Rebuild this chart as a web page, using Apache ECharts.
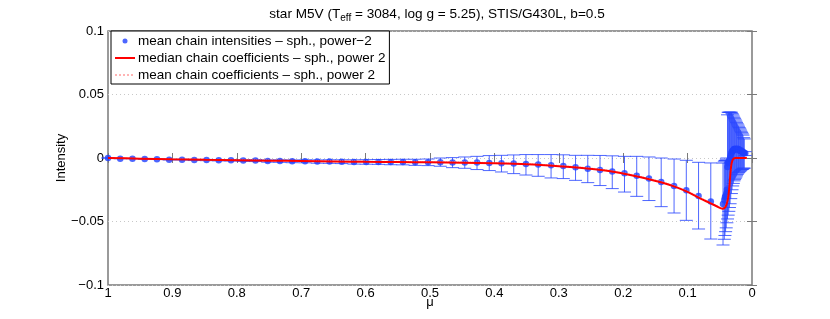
<!DOCTYPE html>
<html>
<head>
<meta charset="utf-8">
<script src="https://cdn.jsdelivr.net/npm/echarts@6/dist/echarts.min.js"></script>
<style>
  html, body { margin: 0; padding: 0; background: #fff; overflow: hidden; }
  #chart { width: 830px; height: 319px; }
</style>
</head>
<body>
<div id="chart"></div>
<script>
// ---- data ----
const titleMain = 'star M5V (T';
const titleSub = 'eff';
const titleRest = ' = 3084, log g = 5.25), STIS/G430L, b=0.5';
const xLabel = 'μ';
const yLabel = 'Intensity';
const nameDots = 'mean chain intensities – sph., power−2';
const nameMedian = 'median chain coefficients – sph., power 2';
const nameMean = 'mean chain coefficients – sph., power 2';

// mean chain intensities (dots) with error-bar lower/upper ends
const muPts = [1.000, 0.981, 0.962, 0.943, 0.924, 0.905, 0.885, 0.866, 0.847, 0.828,
  0.809, 0.790, 0.771, 0.752, 0.733, 0.714, 0.694, 0.675, 0.656, 0.637,
  0.618, 0.599, 0.580, 0.561, 0.542, 0.523, 0.503, 0.484, 0.465, 0.446,
  0.427, 0.408, 0.389, 0.370, 0.351, 0.332, 0.312, 0.293, 0.274, 0.255,
  0.236, 0.217, 0.198, 0.179, 0.160, 0.141, 0.121, 0.102, 0.083, 0.064,
  0.045, 0.043, 0.042, 0.041, 0.040, 0.039, 0.038, 0.037, 0.036, 0.035,
  0.034, 0.033, 0.032, 0.031, 0.030, 0.029, 0.028, 0.027, 0.026, 0.025,
  0.024, 0.023, 0.022, 0.021, 0.020, 0.019, 0.018, 0.017, 0.016, 0.015,
  0.014, 0.013, 0.012, 0.0105];
const meanPts = [0, -0.0005, -0.0005, -0.0008, -0.0010, -0.0013, -0.0013, -0.0016, -0.0016, -0.0018,
  -0.0018, -0.0020, -0.0020, -0.0024, -0.0024, -0.0026, -0.0026, -0.0028, -0.0028, -0.0029,
  -0.0031, -0.0031, -0.0031, -0.0032, -0.0032, -0.0034, -0.0034, -0.0034, -0.0035, -0.0035,
  -0.0036, -0.0039, -0.0042, -0.0044, -0.0047, -0.0052, -0.0057, -0.0063, -0.0073, -0.0085,
  -0.0094, -0.0107, -0.0120, -0.0139, -0.0162, -0.0189, -0.0220, -0.0254, -0.0299, -0.0343,
  -0.0362, -0.033, -0.031, -0.030, -0.028, -0.025, -0.007, -0.004, -0.003, -0.002,
  0.000, 0.002, 0.004, 0.005, 0.006, 0.006, 0.007, 0.007, 0.007, 0.007,
  0.007, 0.007, 0.007, 0.007, 0.006, 0.006, 0.006, 0.006, 0.005, 0.005,
  0.005, 0.004, 0.004, 0.0037];
const lowPts = [0, -0.0006, -0.0006, -0.0009, -0.0012, -0.0016, -0.0016, -0.0020, -0.0021, -0.0023,
  -0.0024, -0.0027, -0.0028, -0.0033, -0.0034, -0.0037, -0.0038, -0.0041, -0.0042, -0.0044,
  -0.0048, -0.0049, -0.0050, -0.0053, -0.0054, -0.0058, -0.0060, -0.0065, -0.0076, -0.0081,
  -0.0091, -0.0099, -0.0110, -0.0123, -0.0134, -0.0144, -0.0157, -0.0162, -0.0176, -0.0194,
  -0.0217, -0.0241, -0.0268, -0.0302, -0.0335, -0.0383, -0.0433, -0.0491, -0.0559, -0.0638,
  -0.0685, -0.064, -0.061, -0.058, -0.055, -0.051, -0.048, -0.045, -0.042, -0.039,
  -0.036, -0.032, -0.028, -0.025, -0.022, -0.020, -0.018, -0.017, -0.016, -0.015,
  -0.014, -0.013, -0.012, -0.0115, -0.011, -0.0105, -0.010, -0.0095, -0.009, -0.009,
  -0.0085, -0.008, -0.008, 0.002];
const upPts = [0, -0.0004, -0.0004, -0.0007, -0.0008, -0.0010, -0.0010, -0.0012, -0.0011, -0.0013,
  -0.0012, -0.0013, -0.0012, -0.0015, -0.0014, -0.0015, -0.0014, -0.0015, -0.0014, -0.0014,
  -0.0014, -0.0013, -0.0012, -0.0011, -0.0010, -0.0010, -0.0008, 0.0000, 0.0003, 0.0008,
  0.0013, 0.0019, 0.0021, 0.0024, 0.0027, 0.0027, 0.0027, 0.0025, 0.0021, 0.0021,
  0.0020, 0.0017, 0.0013, 0.0013, 0.0008, 0.0000, -0.0008, -0.0018, -0.0034, -0.0039,
  -0.0040, -0.003, -0.002, -0.002, -0.001, 0.000, 0.034, 0.036, 0.036, 0.036,
  0.036, 0.036, 0.036, 0.035, 0.034, 0.033, 0.032, 0.031, 0.030, 0.029,
  0.028, 0.027, 0.026, 0.025, 0.024, 0.023, 0.022, 0.021, 0.020, 0.019,
  0.018, 0.016, 0.015, 0.005];

// median chain coefficients (red line)
const muMedian = [1.00, 0.95, 0.90, 0.85, 0.80, 0.75, 0.70, 0.65, 0.60, 0.55, 0.50, 0.45, 0.40, 0.35,
  0.30, 0.26, 0.22, 0.18, 0.14, 0.12, 0.10, 0.08, 0.065, 0.055, 0.0455, 0.042, 0.0395, 0.037,
  0.035, 0.0335, 0.032, 0.030, 0.028, 0.026, 0.008];
const valMedian = [0, -0.0005, -0.0010, -0.0014, -0.0017, -0.0021, -0.0024, -0.0027, -0.0030, -0.0032,
  -0.0034, -0.0037, -0.0042, -0.0050, -0.0065, -0.0081, -0.0105, -0.0143, -0.0193, -0.0225,
  -0.0267, -0.0320, -0.0355, -0.0380, -0.0400, -0.0390, -0.0365, -0.0310, -0.0220, -0.0120,
  -0.0050, -0.0015, -0.0003, 0, 0];

// mean chain coefficients (pink dotted line)
const muMeanCoef = [1.00, 0.90, 0.80, 0.70, 0.60, 0.50, 0.40, 0.30, 0.22, 0.14, 0.10, 0.065, 0.0455,
  0.037, 0.033, 0.028, 0.008];
const valMeanCoef = [0, -0.0008, -0.0014, -0.0020, -0.0024, -0.0028, -0.0036, -0.0058, -0.0098,
  -0.0186, -0.0260, -0.0350, -0.0395, -0.0300, -0.0100, -0.0003, 0];

const xTicks = [1, 0.9, 0.8, 0.7, 0.6, 0.5, 0.4, 0.3, 0.2, 0.1, 0];
const yTicks = [-0.1, -0.05, 0, 0.05, 0.1];

// ---- chart ----
const FONT = '"Liberation Sans", Arial, Helvetica, sans-serif';
const AX = '#7a7a7a';
const chart = echarts.init(document.getElementById('chart'), null, { renderer: 'canvas' });

const dotData = muPts.map((m, i) => [m, meanPts[i]]);
const errData = muPts.map((m, i) => [m, lowPts[i], upPts[i]]);
const medData = muMedian.map((m, i) => [m, valMedian[i]]);
const meanCoefData = muMeanCoef.map((m, i) => [m, valMeanCoef[i]]);

function fmtX(v) { return String(parseFloat(v.toFixed(2))); }
function fmtY(v) { return String(parseFloat(v.toFixed(3))).replace('-', '−'); }

const xBase = {
  type: 'value', min: 0, max: 1, interval: 0.1, inverse: true,
  axisLine: { show: false },
  axisTick: { show: true, inside: true, length: 5, lineStyle: { color: AX, width: 1 } },
  splitLine: { show: false }
};
const yBase = {
  type: 'value', min: -0.1, max: 0.1, interval: 0.05,
  axisLine: { show: false },
  axisTick: { show: true, inside: true, length: 5, lineStyle: { color: AX, width: 1 } }
};

const hiddenSym = { color: 'rgba(0,0,0,0)', borderWidth: 0, opacity: 0 };

chart.setOption({
  animation: false,
  backgroundColor: '#fff',
  textStyle: { fontFamily: FONT },
  title: {
    text: '{a|' + titleMain + '}{s|' + titleSub + '}{a|' + titleRest + '}',
    left: 432, top: 1, textAlign: 'center',
    textStyle: {
      fontWeight: 'normal',
      rich: {
        a: { fontFamily: FONT, fontSize: 13.6, fontWeight: 'normal', color: '#000', lineHeight: 16 },
        s: { fontFamily: FONT, fontSize: 10, fontWeight: 'normal', color: '#000', lineHeight: 16, padding: [9, 0, 0, 0] }
      }
    }
  },
  legend: {
    orient: 'vertical', left: 111, top: 31,
    padding: [3, 4, 2, 3], itemGap: 3, itemWidth: 20, itemHeight: 5,
    backgroundColor: '#fff', borderColor: '#000', borderWidth: 1, borderRadius: 0,
    textStyle: { fontFamily: FONT, fontSize: 13.5, color: '#000', lineHeight: 14, padding: [0, 0, 0, -2] },
    data: [
      { name: nameDots, icon: 'circle' },
      { name: nameMedian, itemStyle: hiddenSym },
      { name: nameMean, itemStyle: hiddenSym }
    ]
  },
  grid: { left: 108, right: 78, top: 31, bottom: 34, containLabel: false, outerBoundsMode: 'none',
    show: true, borderColor: AX, borderWidth: 1.5, backgroundColor: 'transparent' },
  xAxis: [
    Object.assign({}, xBase, {
      position: 'bottom',
      name: xLabel, nameLocation: 'middle', nameGap: 11, nameMoveOverlap: false,
      nameTextStyle: { fontFamily: FONT, fontSize: 13, color: '#000' },
      axisLabel: { show: true, margin: 2, color: '#000', fontSize: 13, fontFamily: FONT, formatter: fmtX }
    }),
    Object.assign({}, xBase, { position: 'top', axisLabel: { show: false } })
  ],
  yAxis: [
    Object.assign({}, yBase, {
      position: 'left',
      name: yLabel, nameLocation: 'middle', nameGap: 40, nameRotate: 90, nameMoveOverlap: false,
      nameTextStyle: { fontFamily: FONT, fontSize: 13, color: '#000' },
      axisLabel: { show: true, margin: 4, color: '#000', fontSize: 13, fontFamily: FONT, formatter: fmtY },
      splitLine: { show: true, lineStyle: { color: '#c8c8c8', type: [1, 3], width: 1 } }
    }),
    Object.assign({}, yBase, { position: 'right', axisLabel: { show: false }, splitLine: { show: false } })
  ],
  series: [
    {
      type: 'custom',
      name: 'errbars',
      xAxisIndex: 0, yAxisIndex: 0,
      data: errData,
      encode: { x: 0, y: [1, 2] },
      z: 2,
      renderItem: function (params, api) {
        const m = api.value(0);
        const lo = api.coord([m, api.value(1)]);
        const up = api.coord([m, api.value(2)]);
        const w = 6.5;
        const st = { stroke: 'rgba(40,70,255,0.82)', lineWidth: 1, fill: null };
        return {
          type: 'group',
          children: [
            { type: 'line', shape: { x1: lo[0], y1: lo[1], x2: up[0], y2: up[1] }, style: st },
            { type: 'line', shape: { x1: lo[0] - w, y1: lo[1], x2: lo[0] + w, y2: lo[1] }, style: st },
            { type: 'line', shape: { x1: up[0] - w, y1: up[1], x2: up[0] + w, y2: up[1] }, style: st }
          ]
        };
      },
      silent: true
    },
    {
      type: 'scatter', name: nameDots, data: dotData,
      symbol: 'circle', symbolSize: 6.5, z: 3,
      itemStyle: { color: '#2040ff' }, silent: true
    },
    {
      type: 'line', name: nameMean, data: meanCoefData,
      symbol: 'none', smooth: 0.3, z: 4,
      lineStyle: { color: '#ffb4b4', width: 1, type: 'dotted' },
      itemStyle: { color: '#ffb4b4' }, silent: true
    },
    {
      type: 'line', name: nameMedian, data: medData,
      symbol: 'none', smooth: 0.3, z: 5,
      lineStyle: { color: '#ff0000', width: 2 },
      itemStyle: { color: '#ff0000' }, silent: true
    }
  ]
});
</script>
</body>
</html>
